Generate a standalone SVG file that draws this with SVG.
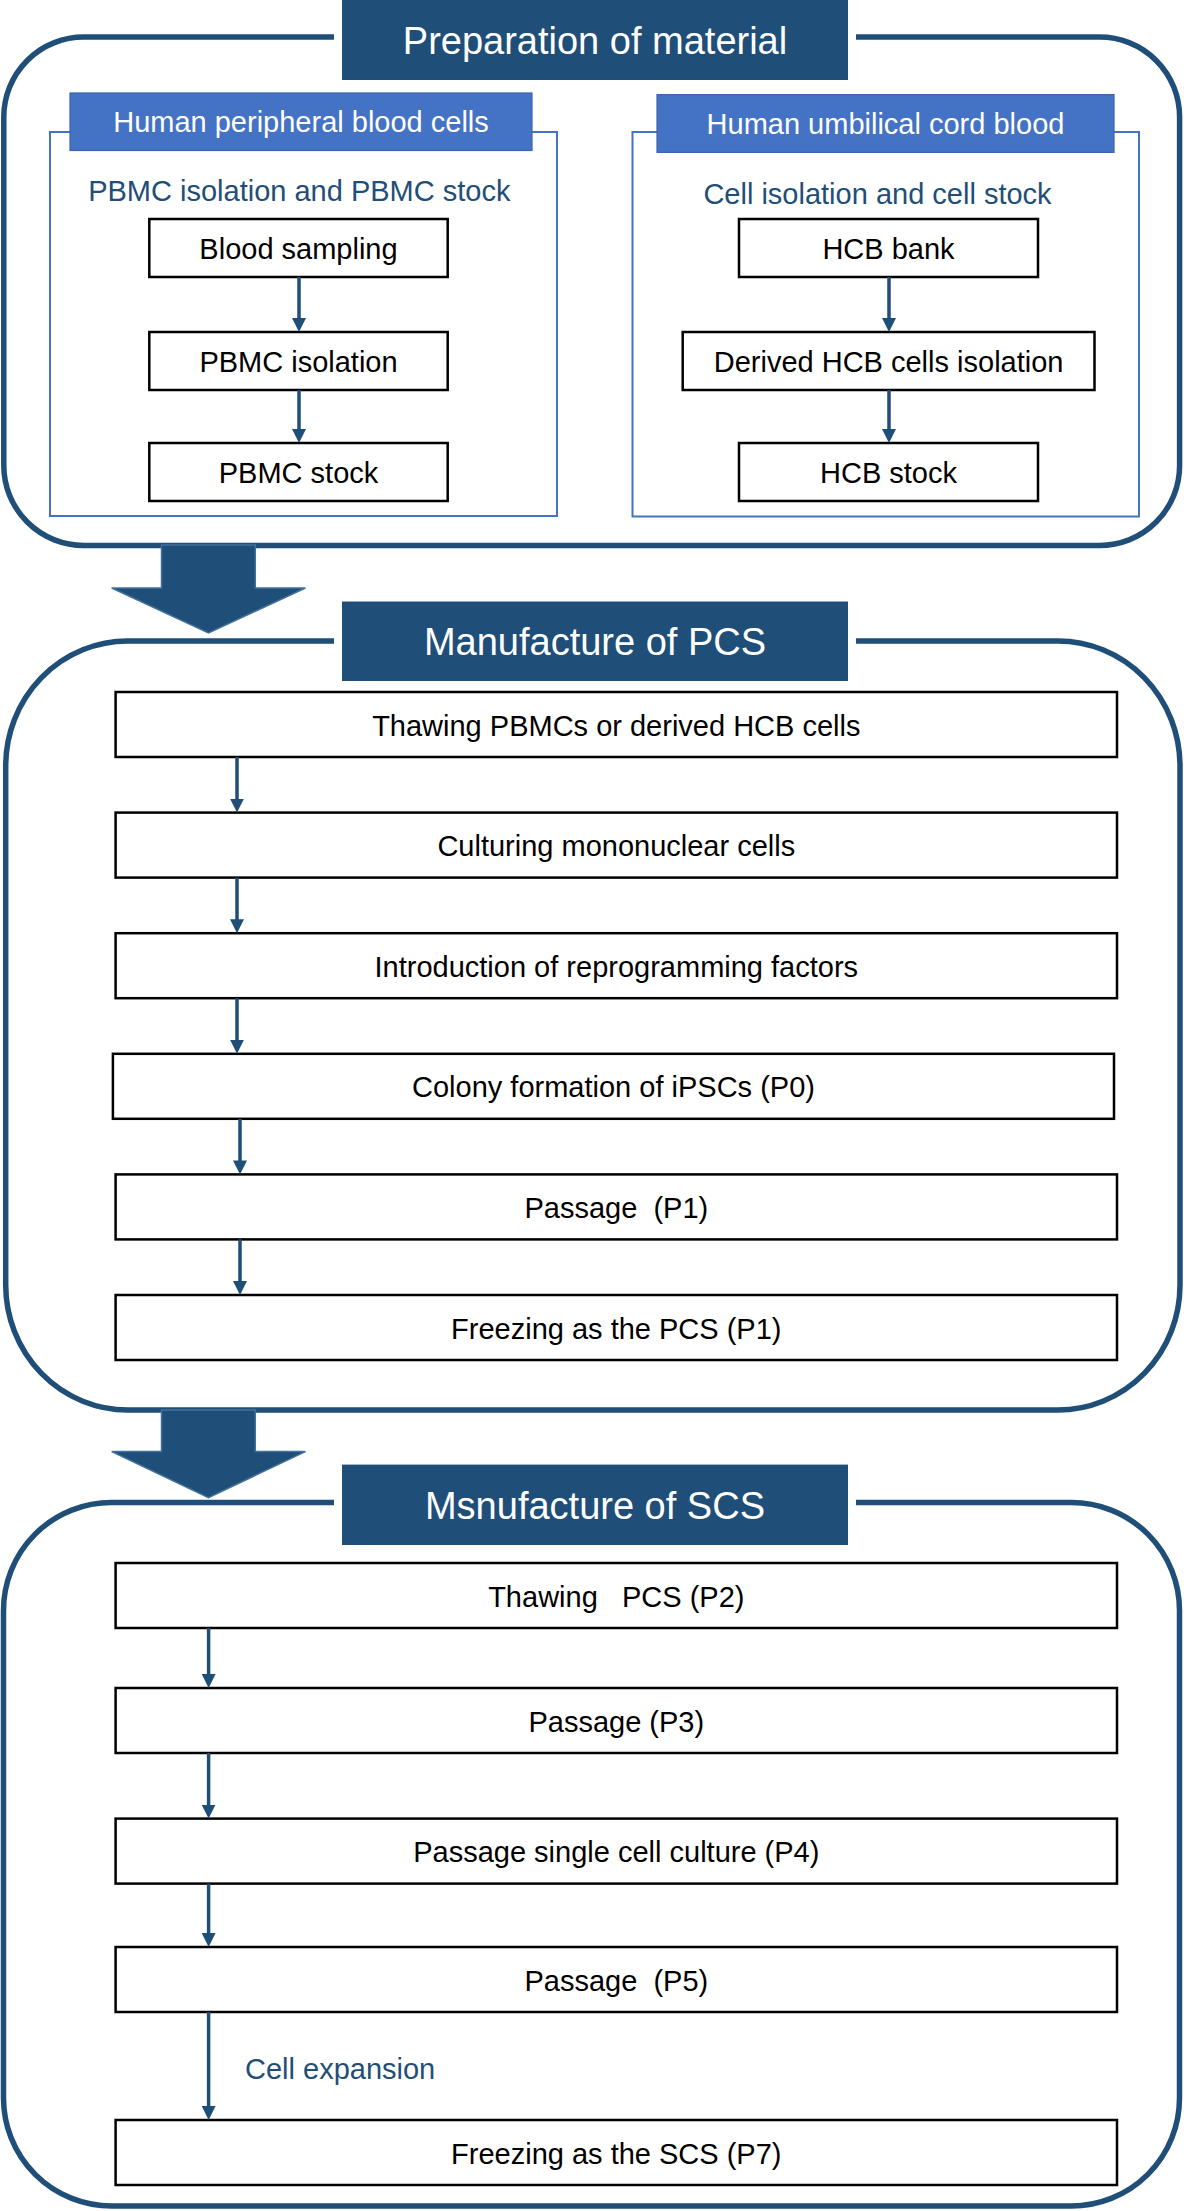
<svg xmlns="http://www.w3.org/2000/svg" width="1187" height="2211" viewBox="0 0 1187 2211">
<style>
text { font-family: "Liberation Sans", Arial, sans-serif; white-space: pre; }
.frame { fill: none; stroke: #1F4E79; stroke-width: 5.5; }
.title rect { fill: #1F4E79; stroke: #ffffff; stroke-width: 8; }
.title text { fill: #ffffff; font-size: 38px; text-anchor: middle; }
.hdr rect { fill: #4472C4; stroke: #3A64AE; stroke-width: 1.2; }
.hdr text { fill: #ffffff; font-size: 29px; text-anchor: middle; }
.cont { fill: none; stroke: #4472C4; stroke-width: 2; }
.sub { fill: #1F4E79; font-size: 29px; text-anchor: middle; }
.step rect { fill: #ffffff; stroke: #000000; stroke-width: 2.5; }
.step text { fill: #000000; font-size: 29px; text-anchor: middle; }
.conn line { stroke: #1F4E79; stroke-width: 3.5; marker-end: url(#ah); }
.big { fill: #1F4E79; stroke: #41719C; stroke-width: 1.5; }
.lbl { fill: #1F4E79; font-size: 29px; }
</style>
<defs>
<marker id="ah" viewBox="0 0 14 14" refX="6" refY="7" markerWidth="14" markerHeight="14" markerUnits="userSpaceOnUse" orient="auto">
<path d="M0,0 L14,7 L0,14 z" fill="#1F4E79"/>
</marker>
</defs>

<!-- Section frames -->
<g id="frames">
<rect id="frame-material" class="frame" x="3.8" y="37" width="1175.8" height="508.5" rx="80" ry="80"/>
<rect id="frame-pcs" class="frame" x="5.7" y="641" width="1174.3" height="769" rx="122" ry="125"/>
<rect id="frame-scs" class="frame" x="3.5" y="1502.5" width="1176" height="703.5" rx="108" ry="108"/>
</g>

<!-- Big transition arrows -->
<g id="big-arrows">
<polygon id="big-arrow-1" class="big" points="161.5,545 255.3,545 255.3,588 305.4,588 208.5,633 111.7,588 161.5,588"/>
<polygon id="big-arrow-2" class="big" points="161.5,1410 255.3,1410 255.3,1451.6 305.4,1451.6 208.5,1497.6 111.7,1451.6 161.5,1451.6"/>
</g>

<!-- Titles -->
<g id="title-material" class="title">
<rect x="338" y="-10" width="514" height="94"/>
<text x="595" y="54">Preparation of material</text>
</g>
<g id="title-pcs" class="title">
<rect x="338" y="597.5" width="514" height="87.5"/>
<text x="595" y="655">Manufacture of PCS</text>
</g>
<g id="title-scs" class="title">
<rect x="338" y="1460.6" width="514" height="88.4"/>
<text x="595" y="1519">Msnufacture of SCS</text>
</g>

<!-- Preparation: left container -->
<g id="group-pbmc">
<rect class="cont" x="50" y="132" width="507" height="384"/>
<g class="hdr">
<rect x="70" y="93" width="462" height="57.5"/>
<text x="301" y="132">Human peripheral blood cells</text>
</g>
<text class="sub" x="299.3" y="201">PBMC isolation and PBMC stock</text>
</g>
<g id="group-hcb">
<rect class="cont" x="632.5" y="132" width="506.5" height="384.5"/>
<g class="hdr">
<rect x="657" y="94.6" width="457" height="57.8"/>
<text x="885.5" y="134">Human umbilical cord blood</text>
</g>
<text class="sub" x="877.5" y="204">Cell isolation and cell stock</text>
</g>

<g id="n-blood-sampling" class="step">
<rect x="149.3" y="219" width="298.4" height="58"/>
<text x="298.5" y="258.5">Blood sampling</text>
</g>
<g id="n-pbmc-isolation" class="step">
<rect x="149.3" y="332" width="298.4" height="58"/>
<text x="298.5" y="371.5">PBMC isolation</text>
</g>
<g id="n-pbmc-stock" class="step">
<rect x="149.3" y="443" width="298.4" height="58"/>
<text x="298.5" y="482.5">PBMC stock</text>
</g>
<g id="n-hcb-bank" class="step">
<rect x="739" y="219" width="299" height="58"/>
<text x="888.5" y="258.5">HCB bank</text>
</g>
<g id="n-hcb-isolation" class="step">
<rect x="682.7" y="332" width="411.8" height="58"/>
<text x="888.6" y="371.5">Derived HCB cells isolation</text>
</g>
<g id="n-hcb-stock" class="step">
<rect x="739" y="443" width="299" height="58"/>
<text x="888.5" y="482.5">HCB stock</text>
</g>

<!-- PCS steps -->
<g id="n-thaw-pbmc" class="step">
<rect x="115.6" y="692" width="1001.4" height="65"/>
<text x="616.3" y="735.5">Thawing PBMCs or derived HCB cells</text>
</g>
<g id="n-culture" class="step">
<rect x="115.6" y="812.6" width="1001.4" height="65"/>
<text x="616.3" y="856">Culturing mononuclear cells</text>
</g>
<g id="n-intro" class="step">
<rect x="115.6" y="933.2" width="1001.4" height="65"/>
<text x="616.3" y="976.7">Introduction of reprogramming factors</text>
</g>
<g id="n-colony" class="step">
<rect x="112.9" y="1053.8" width="1001.1" height="65"/>
<text x="613.5" y="1097.3">Colony formation of iPSCs (P0)</text>
</g>
<g id="n-passage-p1" class="step">
<rect x="115.6" y="1174.4" width="1001.4" height="65"/>
<text x="616.3" y="1217.9">Passage  (P1)</text>
</g>
<g id="n-freeze-pcs" class="step">
<rect x="115.6" y="1295" width="1001.4" height="65"/>
<text x="616.3" y="1338.5">Freezing as the PCS (P1)</text>
</g>

<!-- SCS steps -->
<g id="n-thaw-pcs" class="step">
<rect x="115.6" y="1563" width="1001.4" height="65"/>
<text x="616.3" y="1606.5">Thawing   PCS (P2)</text>
</g>
<g id="n-passage-p3" class="step">
<rect x="115.6" y="1688" width="1001.4" height="65"/>
<text x="616.3" y="1731.5">Passage (P3)</text>
</g>
<g id="n-passage-p4" class="step">
<rect x="115.6" y="1818.6" width="1001.4" height="65"/>
<text x="616.3" y="1862.1">Passage single cell culture (P4)</text>
</g>
<g id="n-passage-p5" class="step">
<rect x="115.6" y="1947" width="1001.4" height="65"/>
<text x="616.3" y="1990.5">Passage  (P5)</text>
</g>
<g id="n-freeze-scs" class="step">
<rect x="115.6" y="2120" width="1001.4" height="65"/>
<text x="616.3" y="2163.5">Freezing as the SCS (P7)</text>
</g>

<!-- Connectors -->
<g id="connectors" class="conn">
<line x1="299" y1="277" x2="299" y2="324"/>
<line x1="299" y1="390" x2="299" y2="435"/>
<line x1="889" y1="277" x2="889" y2="324"/>
<line x1="889" y1="390" x2="889" y2="435"/>
<line x1="237" y1="757" x2="237" y2="804.6"/>
<line x1="237" y1="877.6" x2="237" y2="925.2"/>
<line x1="237" y1="998.2" x2="237" y2="1045.8"/>
<line x1="240" y1="1118.8" x2="240" y2="1166.4"/>
<line x1="240" y1="1239.4" x2="240" y2="1287"/>
<line x1="208.6" y1="1628" x2="208.6" y2="1680"/>
<line x1="208.6" y1="1753" x2="208.6" y2="1810.6"/>
<line x1="208.6" y1="1883.6" x2="208.6" y2="1939"/>
<line x1="208.6" y1="2012" x2="208.6" y2="2112"/>
<text class="lbl" x="245" y="2079">Cell expansion</text>
</g>
</svg>
